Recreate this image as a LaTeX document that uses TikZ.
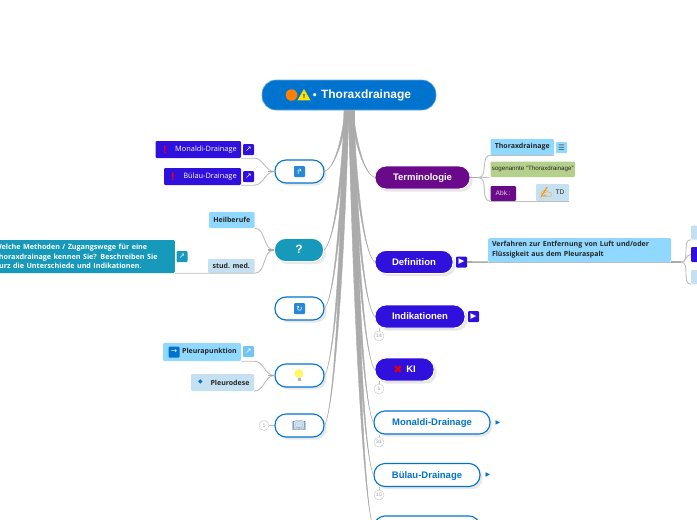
\documentclass[tikz,border=0pt]{standalone}
\usepackage{fontspec}
\setmainfont{Liberation Sans}
\newfontfamily\tagfont{Open Sans}
\newfontfamily\symb{DejaVu Sans}
\newfontfamily\emo{Noto Emoji}
\usetikzlibrary{calc}
\usetikzlibrary{positioning}
\usetikzlibrary{shadows,shapes.geometric}
\definecolor{rootblue}{HTML}{0073CF}
\definecolor{indigo}{HTML}{3010DC}
\definecolor{plum}{HTML}{6A0A8A}
\definecolor{teal}{HTML}{1699BB}
\definecolor{skyblue}{HTML}{90D8FF}
\definecolor{paleblue}{HTML}{C5E0F0}
\definecolor{leaf}{HTML}{B5D08A}
\definecolor{branchgray}{HTML}{ABABAB}
\definecolor{twiggray}{HTML}{BDBDBD}

\begin{document}
\begin{tikzpicture}[
        x=1pt,y=-1pt,
        every node/.style={inner sep=0pt},
        topic/.style={rounded corners=11pt,minimum height=23pt,text height=8pt,text depth=2pt,font=\bfseries\fontsize{9.5}{12}\selectfont,drop shadow={opacity=.18,shift={(0pt,-1pt)}}},
        filled/.style={topic,draw=white,line width=.8pt,text=white},
        outlined/.style={topic,draw=rootblue,fill=white,line width=1.1pt,text=rootblue},
        tag/.style={rounded corners=1.2pt,font=\tagfont\bfseries\fontsize{7}{8}\selectfont,text=black!85},
        iconbox/.style={rounded corners=1pt,minimum size=11pt,font=\symb\fontsize{7.5}{8}\selectfont,text=white},
        alert/.style={text=red,font=\bfseries\fontsize{11}{11}\selectfont},
        badge/.style={circle,draw=black!20,fill=white,line width=.5pt,minimum size=10pt,font=\fontsize{5}{6}\selectfont,text=black!40},
        branchline/.style={fill=branchgray,draw=branchgray,line width=.4pt},
        twig/.style={draw=twiggray,line width=.9pt},
        stub/.style={draw=twiggray!90!black,line width=1.6pt}]

        \path[use as bounding box,clip] (0,0) rectangle (697,520);

        % root
        \node[fill=rootblue,draw=rootblue!60!white,line width=.6pt,rounded corners=14pt,minimum width=174pt,minimum height=30pt,text=white,font=\bfseries\fontsize{12}{14}\selectfont] (root) at (349,95) {\hspace{25pt}{\symb\fontsize{9}{10}\selectfont\textbullet}\ Thoraxdrainage};
        \node[circle,fill=orange,minimum size=11.5pt] (dot) at (291.5,95) {};
        \node[regular polygon,regular polygon sides=3,fill=yellow!85!orange,minimum size=15pt,font=\bfseries\fontsize{6}{6}\selectfont] (warn) at (304,96.5) {!};

        % left side
        \node[outlined,minimum width=49pt] (hubA) at (299.5,171.5) {};
        \node[filled,fill=teal,minimum width=49pt,font=\bfseries\fontsize{12}{14}\selectfont] (hubB) at (299,250) {?};
        \node[outlined,minimum width=49pt] (hubC) at (299.5,308.5) {};
        \node[outlined,minimum width=49pt] (hubD) at (299.5,375.5) {};
        \node[outlined,minimum width=49pt] (hubE) at (299.5,425.5) {};

        \node[iconbox,fill=rootblue!85!white] (iconA) at (299.5,171.5) {↱};
        \node[iconbox,fill=rootblue!85!white] (iconC) at (299.5,308.5) {↻};
        \node[circle,fill=yellow!60,minimum size=9pt] (iconD) at (299,373.5) {};
        \node[fill=black!30,minimum width=3pt,minimum height=3pt,below=0pt of iconD] (iconDb) {};
        \node[text=rootblue!50!gray,font=\emo\fontsize{11}{12}\selectfont] (iconE) at (299,425.5) {📖};

        \node[tag,fill=indigo,text=white,minimum width=85.5pt,minimum height=17pt] (monaldi) at (198.25,149.5) {\hspace{15.5pt}{\mdseries\fontsize{7.4}{8}\selectfont Monaldi-Drainage}};
        \node[alert] (alertM) at (165,149.5) {!};
        \node[iconbox,fill=indigo] (linkM) at (248.5,149.5) {↗};
        \node[tag,fill=indigo,text=white,minimum width=77pt,minimum height=17pt] (buelau) at (202.5,176.5) {\hspace{15pt}{\mdseries\fontsize{7.4}{8}\selectfont Bülau-Drainage}};
        \node[alert] (alertB) at (173,176.5) {!};
        \node[iconbox,fill=indigo] (linkB) at (248.5,176.5) {↗};

        \node[tag,fill=skyblue,minimum width=45.5pt,minimum height=16pt] (heil) at (231.75,220) {Heilberufe};
        \node[tag,fill=paleblue,minimum width=46.5pt,minimum height=14pt] (stud) at (231.25,266) {stud. med.};
        \node[tag,fill=teal,text=white,minimum height=33pt,text width=175pt,align=left,inner xsep=5pt,font=\tagfont\bfseries\fontsize{7.2}{9.5}\selectfont] (frage) at (82.25,256.5) {Welche Methoden / Zugangswege für eine\\Thoraxdrainage kennen Sie? Beschreiben Sie\\kurz die Unterschiede und Indikationen.};
        \node[iconbox,fill=teal] (linkF) at (182,256.5) {↗};

        \node[tag,fill=skyblue,minimum width=78pt,minimum height=18pt] (punktion) at (202,352) {\hspace{15pt}Pleurapunktion};
        \node[iconbox,fill=rootblue] (iconP) at (174,352) {→};
        \node[iconbox,fill=skyblue!80!rootblue] (linkP) at (248.5,351.5) {↗};
        \node[tag,fill=paleblue,minimum width=63pt,minimum height=17pt] (rodese) at (222.5,382.5) {\hspace{15pt}Pleurodese};
        \node[text=rootblue,font=\symb\fontsize{6}{7}\selectfont] (iconR) at (200.5,382) {◆};

        \node[badge] (badgeE) at (264,425.5) {1};

        % right side
        \node[filled,fill=plum,minimum width=95pt] (term) at (422.5,177.5) {Terminologie};
        \node[filled,fill=indigo,minimum width=78pt] (defi) at (414,262) {Definition};
        \node[filled,fill=indigo,minimum width=90pt] (indi) at (420,316.5) {Indikationen};
        \node[filled,fill=indigo,minimum width=59pt] (ki) at (404.5,369.5) {\hspace{13pt}KI};
        \node[text=red!90!black,font=\symb\bfseries\fontsize{11}{11}\selectfont] (iconK) at (398,369.5) {✖};
        \node[outlined,minimum width=116pt] (mona) at (432,422.5) {Monaldi-Drainage};
        \node[outlined,minimum width=106pt] (buel) at (427,475) {Bülau-Drainage};
        \node[outlined,minimum width=106pt,minimum height=24pt] (next) at (427,528) {};

        \node[badge] (badgeI) at (379,336) {14};
        \node[badge] (badgeK) at (379,389) {1};
        \node[badge] (badgeM) at (379,442) {31};
        \node[badge] (badgeB) at (379,495) {10};

        \node[iconbox,fill=indigo] (playD) at (461.5,262) {▶};
        \node[iconbox,fill=indigo] (playI) at (473.5,316.5) {▶};
        \node[text=rootblue,font=\symb\fontsize{6}{7}\selectfont] (playM) at (498,422.5) {▶};
        \node[text=rootblue,font=\symb\fontsize{6}{7}\selectfont] (playB) at (488,475) {▶};

        \node[tag,fill=skyblue,minimum width=63.5pt,minimum height=16pt] (thorax) at (522.25,147) {Thoraxdrainage};
        \node[iconbox,fill=skyblue,text=black!70] (listT) at (561.5,147.5) {☰};
        \node[tag,fill=leaf,minimum width=84.5pt,minimum height=15.5pt,font=\fontsize{6.2}{8}\selectfont] (sogen) at (532.75,169.25) {sogenannte "Thoraxdrainage"};
        \node[tag,fill=plum,text=white!80!plum,minimum width=25.5pt,minimum height=15pt,font=\fontsize{6.6}{8}\selectfont] (abk) at (503.25,193.5) {Abk.:};
        \node[tag,fill=paleblue,minimum width=33pt,minimum height=17pt,font=\fontsize{6.6}{8}\selectfont] (td) at (552.5,192.5) {\hspace{15pt}TD};
        \node[text=orange!85!yellow,font=\emo\fontsize{11}{12}\selectfont] (iconT) at (546,192.5) {✍};

        \node[tag,fill=skyblue,rounded corners=1.5pt,minimum height=24pt,text width=175pt,align=left,inner xsep=4pt,font=\tagfont\bfseries\fontsize{7}{10}\selectfont] (verf) at (579.5,250) {Verfahren zur Entfernung von Luft und/oder\\Flüssigkeit aus dem Pleuraspalt};

        \node[tag,fill=paleblue,minimum width=12pt,minimum height=14pt] (subA) at (697,232.5) {};
        \node[tag,fill=indigo,minimum width=12pt,minimum height=15pt] (subB) at (697,254.5) {};
        \node[tag,fill=paleblue,minimum width=12pt,minimum height=14pt] (subC) at (697,277) {};

        % root branches
        \foreach \t/\w/\s in {hubA.east/1.5/-1,hubB.east/1.8/-1,hubC.east/2/-1,hubD.east/2.2/-1,hubE.east/2.5/-1,term.west/1.5/1,defi.west/1.8/1,indi.west/2/1,ki.west/2.2/1,mona.west/2.5/1,buel.west/2.8/1,next.west/3/1}{
            \draw[branchline] let \p1=(root.south),\p2=(\t),\n1={\s*2.5pt} in
                ({\x1+\n1-\w*1pt},\y1) .. controls ({\x1+\n1+0.2*(\x2-\x1)-\w*.6pt},{\y1+0.6*(\y2-\y1)}) and ({\x2-0.35*(\x2-\x1)},{\y2-0.05*(\y2-\y1)}) .. (\p2)
                .. controls ({\x2-0.35*(\x2-\x1)},{\y2-0.05*(\y2-\y1)}) and ({\x1+\n1+0.2*(\x2-\x1)+\w*.6pt},{\y1+0.6*(\y2-\y1)}) .. ({\x1+\n1+\w*1pt},\y1) -- cycle;
        }

        % left twigs
        \draw[twig] (monaldi.south east) -- (linkM.east |- monaldi.south) to[out=0,in=180] (hubA.west);
        \draw[twig] (buelau.south east) -- (linkB.east |- buelau.south) to[out=0,in=180] (hubA.west);
        \draw[twig] (heil.south east) to[out=0,in=180] (hubB.west);
        \draw[twig] (frage.south east) -- (stud.south east) to[out=0,in=180] (hubB.west);
        \draw[twig] (punktion.south east) -- (linkP.east |- punktion.south) to[out=0,in=180] (hubD.west);
        \draw[twig] (rodese.south east) to[out=0,in=180] (hubD.west);
        \draw[twig] (badgeE) -- (hubE.west);
        \draw[stub] (hubA.west) -- ++(-6,0);
        \draw[stub] (hubB.west) -- ++(-6,0);
        \draw[stub] (hubD.west) -- ++(-6,0);

        % right twigs
        \draw[stub] (term.east) -- ++(8,0) coordinate (forkT);
        \draw[twig] (forkT) to[out=0,in=180] (thorax.south west);
        \draw[twig] (thorax.south west) -- (thorax.south east);
        \draw[twig] (forkT) -- (sogen.south west);
        \draw[twig] (forkT) to[out=0,in=180] (abk.south west);
        \draw[twig] (abk.south west) -- (td.south east);
        \draw[stub] (playD.east) -- (verf.south west);
        \draw[twig] (verf.south west) -- (verf.south east);
        \draw[stub] (verf.south east) -- ++(10,0) coordinate (forkV);
        \draw[twig] (forkV) to[out=0,in=180] (subA.south west);
        \draw[twig] (forkV) to[out=0,in=180] (subC.south west);
        \draw[twig] (forkV) to[out=0,in=180] (subB.west);

        % badge stems
        \draw[twig,line width=.5pt] (badgeI) -- (indi.south west -| badgeI);
        \draw[twig,line width=.5pt] (badgeK) -- (ki.south west -| badgeK);
        \draw[twig,line width=.5pt] (badgeM) -- (mona.south west -| badgeM);
        \draw[twig,line width=.5pt] (badgeB) -- (buel.south west -| badgeB);

\end{tikzpicture}
\end{document}
